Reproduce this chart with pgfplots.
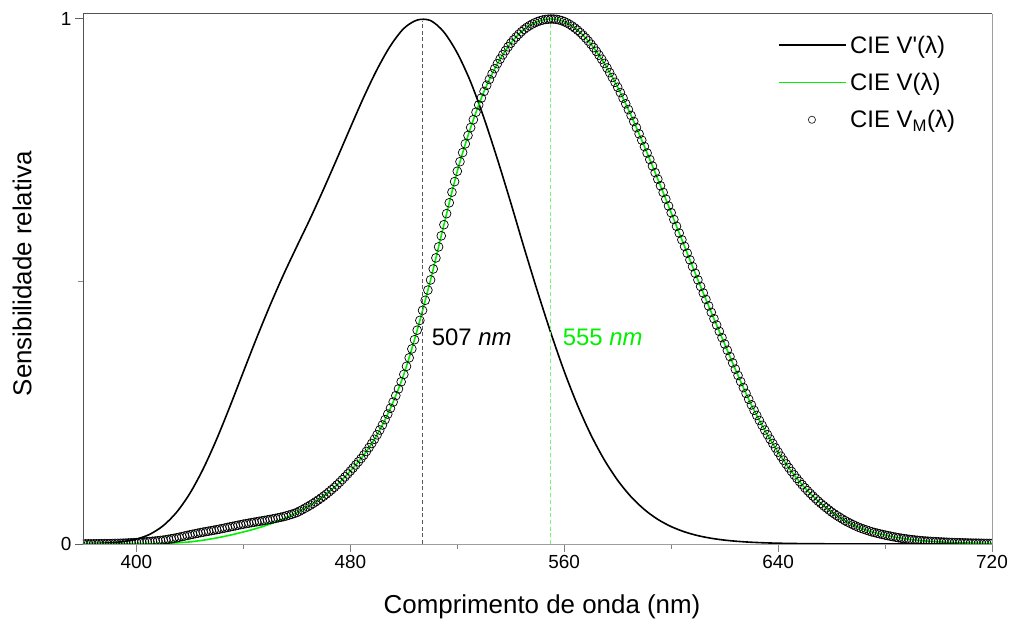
\documentclass[border=0pt]{standalone}
\usepackage{pgfplots}
\pgfplotsset{compat=1.18}
\usepackage{pgfplotstable}
\usepackage{fontspec}
\setmainfont{Liberation Sans}
\definecolor{vgreen}{RGB}{0,240,0}
\definecolor{dashgreen}{RGB}{120,245,120}

% CIE V_M(lambda), 1 nm
\pgfplotstableread{
x y
380 0.0002
381 0.00024
382 0.00028
383 0.00032
384 0.00036
385 0.0004
386 0.00047
387 0.00055
388 0.00063
389 0.00071
390 0.0008
391 0.00093
392 0.00108
393 0.00123
394 0.00139
395 0.00155
396 0.00178
397 0.00203
398 0.00228
399 0.00254
400 0.0028
401 0.0032
402 0.0035
403 0.0039
404 0.0043
405 0.0047
406 0.0052
407 0.0057
408 0.0062
409 0.0068
410 0.0074
411 0.0082
412 0.0090
413 0.0099
414 0.0108
415 0.0118
416 0.0129
417 0.0141
418 0.0152
419 0.0164
420 0.0175
421 0.0186
422 0.0196
423 0.0207
424 0.0217
425 0.0227
426 0.0236
427 0.0245
428 0.0254
429 0.0264
430 0.0273
431 0.0283
432 0.0294
433 0.0304
434 0.0315
435 0.0326
436 0.0337
437 0.0347
438 0.0358
439 0.0368
440 0.0379
441 0.0388
442 0.0397
443 0.0406
444 0.0415
445 0.0424
446 0.0433
447 0.0441
448 0.0450
449 0.0459
450 0.0468
451 0.0478
452 0.0489
453 0.0499
454 0.0510
455 0.0521
456 0.0535
457 0.0550
458 0.0565
459 0.0582
460 0.0600
461 0.0626
462 0.0653
463 0.0681
464 0.0710
465 0.0739
466 0.0771
467 0.0804
468 0.0838
469 0.0874
470 0.0910
471 0.0950
472 0.0991
473 0.1034
474 0.1079
475 0.1126
476 0.1175
477 0.1226
478 0.1279
479 0.1334
480 0.1390
481 0.1447
482 0.1506
483 0.1566
484 0.1628
485 0.1693
486 0.1763
487 0.1837
488 0.1914
489 0.1995
490 0.2080
491 0.2171
492 0.2267
493 0.2369
494 0.2475
495 0.2586
496 0.2704
497 0.2826
498 0.2954
499 0.3089
500 0.3230
501 0.3384
502 0.3546
503 0.3716
504 0.3891
505 0.4073
506 0.4259
507 0.4450
508 0.4642
509 0.4836
510 0.5030
511 0.5239
512 0.5449
513 0.5659
514 0.5870
515 0.6082
516 0.6292
517 0.6499
518 0.6701
519 0.6902
520 0.7100
521 0.7282
522 0.7456
523 0.7622
524 0.7781
525 0.7932
526 0.8082
527 0.8225
528 0.8363
529 0.8494
530 0.8620
531 0.8738
532 0.8849
533 0.8955
534 0.9054
535 0.9149
536 0.9236
537 0.9318
538 0.9396
539 0.9470
540 0.9540
541 0.9601
542 0.9657
543 0.9709
544 0.9758
545 0.9803
546 0.9840
547 0.9873
548 0.9902
549 0.9928
550 0.9950
551 0.9967
552 0.9981
553 0.9991
554 0.9997
555 1.0000
556 0.9999
557 0.9993
558 0.9983
559 0.9969
560 0.9950
561 0.9926
562 0.9897
563 0.9864
564 0.9827
565 0.9786
566 0.9741
567 0.9692
568 0.9639
569 0.9581
570 0.9520
571 0.9455
572 0.9385
573 0.9312
574 0.9235
575 0.9154
576 0.9067
577 0.8978
578 0.8886
579 0.8794
580 0.8700
581 0.8598
582 0.8493
583 0.8385
584 0.8275
585 0.8163
586 0.8048
587 0.7931
588 0.7812
589 0.7692
590 0.7570
591 0.7447
592 0.7323
593 0.7199
594 0.7074
595 0.6949
596 0.6823
597 0.6696
598 0.6568
599 0.6439
600 0.6310
601 0.6181
602 0.6052
603 0.5923
604 0.5794
605 0.5668
606 0.5540
607 0.5412
608 0.5284
609 0.5157
610 0.5030
611 0.4905
612 0.4781
613 0.4658
614 0.4535
615 0.4412
616 0.4291
617 0.4170
618 0.4050
619 0.3930
620 0.3810
621 0.3690
622 0.3570
623 0.3450
624 0.3330
625 0.3210
626 0.3094
627 0.2980
628 0.2868
629 0.2758
630 0.2650
631 0.2547
632 0.2449
633 0.2353
634 0.2260
635 0.2170
636 0.2082
637 0.1997
638 0.1914
639 0.1831
640 0.1750
641 0.1672
642 0.1597
643 0.1524
644 0.1452
645 0.1382
646 0.1315
647 0.1251
648 0.1189
649 0.1129
650 0.1070
651 0.1015
652 0.0963
653 0.0913
654 0.0864
655 0.0816
656 0.0772
657 0.0730
658 0.0689
659 0.0649
660 0.0610
661 0.0574
662 0.0540
663 0.0508
664 0.0477
665 0.0446
666 0.0419
667 0.0393
668 0.0368
669 0.0344
670 0.0320
671 0.0301
672 0.0283
673 0.0266
674 0.0249
675 0.0232
676 0.0219
677 0.0206
678 0.0194
679 0.0182
680 0.0170
681 0.0159
682 0.0149
683 0.0139
684 0.0129
685 0.0119
686 0.0111
687 0.0103
688 0.0096
689 0.0089
690 0.0082
691 0.0077
692 0.0071
693 0.0066
694 0.0061
695 0.0057
696 0.0054
697 0.0050
698 0.0047
699 0.0044
700 0.0041
701 0.0039
702 0.0036
703 0.0034
704 0.0031
705 0.0029
706 0.0027
707 0.0026
708 0.0024
709 0.0022
710 0.0021
711 0.0020
712 0.0018
713 0.0017
714 0.0016
715 0.0015
716 0.0014
717 0.0013
718 0.0012
719 0.0011
720 0.0010
}\vmdata

% CIE V(lambda), 5 nm
\pgfplotstableread{
x y
380 0.000039
385 0.000064
390 0.00012
395 0.000217
400 0.000396
405 0.00064
410 0.00121
415 0.00218
420 0.004
425 0.0073
430 0.0116
435 0.01684
440 0.023
445 0.0298
450 0.038
455 0.048
460 0.06
465 0.0739
470 0.09098
475 0.1126
480 0.13902
485 0.1693
490 0.20802
495 0.2586
500 0.323
505 0.4073
510 0.503
515 0.6082
520 0.71
525 0.7932
530 0.862
535 0.91485
540 0.954
545 0.9803
550 0.99495
555 1.0
560 0.995
565 0.9786
570 0.952
575 0.9154
580 0.87
585 0.8163
590 0.757
595 0.6949
600 0.631
605 0.5668
610 0.503
615 0.4412
620 0.381
625 0.321
630 0.265
635 0.217
640 0.175
645 0.1382
650 0.107
655 0.0816
660 0.061
665 0.04458
670 0.032
675 0.0232
680 0.017
685 0.01192
690 0.00821
695 0.005723
700 0.004102
705 0.002929
710 0.002091
715 0.001484
720 0.001047
}\vdata

% CIE V'(lambda), 5 nm
\pgfplotstableread{
x y
380 0.000589
385 0.001108
390 0.002209
395 0.00453
400 0.00929
405 0.01852
410 0.03484
415 0.0604
420 0.0966
425 0.1436
430 0.1998
435 0.2625
440 0.3281
445 0.3931
450 0.455
455 0.513
460 0.567
465 0.62
470 0.676
475 0.734
480 0.793
485 0.851
490 0.904
495 0.949
500 0.982
505 0.998
510 0.997
515 0.975
520 0.935
525 0.88
530 0.811
535 0.733
540 0.65
545 0.564
550 0.481
555 0.402
560 0.3288
565 0.2639
570 0.2076
575 0.1602
580 0.1212
585 0.0899
590 0.0655
595 0.0469
600 0.03315
605 0.02312
610 0.01593
615 0.01088
620 0.00737
625 0.00497
630 0.003335
635 0.002235
640 0.001497
645 0.001005
650 0.000677
655 0.000459
660 0.000313
665 0.000215
670 0.000148
675 0.000103
680 0.0000716
685 0.00005
690 0.0000353
695 0.000025
700 0.0000178
705 0.0000127
710 0.0000091
715 0.0000066
720 0.0000048
}\vsdata

\begin{document}
\begin{tikzpicture}
\path[use as bounding box] (-83bp,-80bp) rectangle (927bp,544bp);
\begin{axis}[
  at={(0,0)}, anchor=south west,
  scale only axis, width=909bp, height=530bp,
  xmin=380, xmax=720, ymin=0, ymax=1.0095,
  axis line style={draw=none},
  tick pos=left,
  xtick={400,480,560,640,720},
  minor xtick={440,520,600,680},
  ytick={0,1},
  minor ytick={0.5},
  tick align=outside,
  major tick length=8bp, minor tick length=4.5bp,
  major tick style={black!62, line width=1bp},
  minor tick style={black!45, line width=1bp},
  x tick style={black!50},
  ticklabel style={font=\fontsize{19}{22}\selectfont},
  /pgf/number format/assume math mode=true,
  xlabel={Comprimento de onda (nm)},
  ylabel={Sensibilidade relativa},
  xlabel style={font=\fontsize{26}{30}\selectfont, at={(axis description cs:0.505,-0.1302)}, anchor=base},
  ylabel style={font=\fontsize{26}{30}\selectfont, at={(axis description cs:-0.0671,0.51)}, anchor=center},
  clip mode=individual,
  clip marker paths=true,
  legend cell align=left,
  legend style={draw=none, fill=none, at={(axis description cs:0.7645,0.966)}, anchor=north west,
    font=\fontsize{24}{28}\selectfont, row sep=11.5bp, inner sep=0pt, nodes={inner sep=3.5bp}},
  legend image code/.code={\draw[#1, line width=1.6bp] (0bp,0bp) -- (67bp,0bp);},
]
\addplot[black, line width=1.6bp, smooth] table[x=x,y=y] {\vsdata};
\addlegendentry{CIE V\textquotesingle(λ)}
\addplot[vgreen, line width=1.6bp, smooth] table[x=x,y=y] {\vdata};
\addlegendentry{CIE V(λ)}
\addplot[only marks, mark=o, mark size=4.4bp, mark options={black, line width=0.7bp},
  legend image code/.code={\draw[black!85, line width=0.7bp] (33bp,0bp) circle (3.6bp);}]
  table[x=x,y=y] {\vmdata};
\addlegendentry{CIE V\textsubscript{M}(λ)}
\addplot[forget plot, black!65, line width=0.9bp, dash pattern=on 4bp off 2.7bp] coordinates {(507,0) (507,0.997)};
\addplot[forget plot, dashgreen, line width=1bp, dash pattern=on 4bp off 2.7bp] coordinates {(555,0) (555,1.0)};
\node[anchor=west, inner sep=0pt, font=\fontsize{24}{28}\selectfont] at (axis cs:510.4,0.394) {507 \textit{nm}};
\node[anchor=west, inner sep=0pt, font=\fontsize{24}{28}\selectfont, text=vgreen] at (axis cs:559.4,0.394) {555 \textit{nm}};
\end{axis}
\draw[line width=1bp, black!38] (current axis.south west) -- (current axis.south east) -- (current axis.north east);
\draw[line width=1bp, black!68] (current axis.south west) -- (current axis.north west) -- (current axis.north east);
\end{tikzpicture}
\end{document}
